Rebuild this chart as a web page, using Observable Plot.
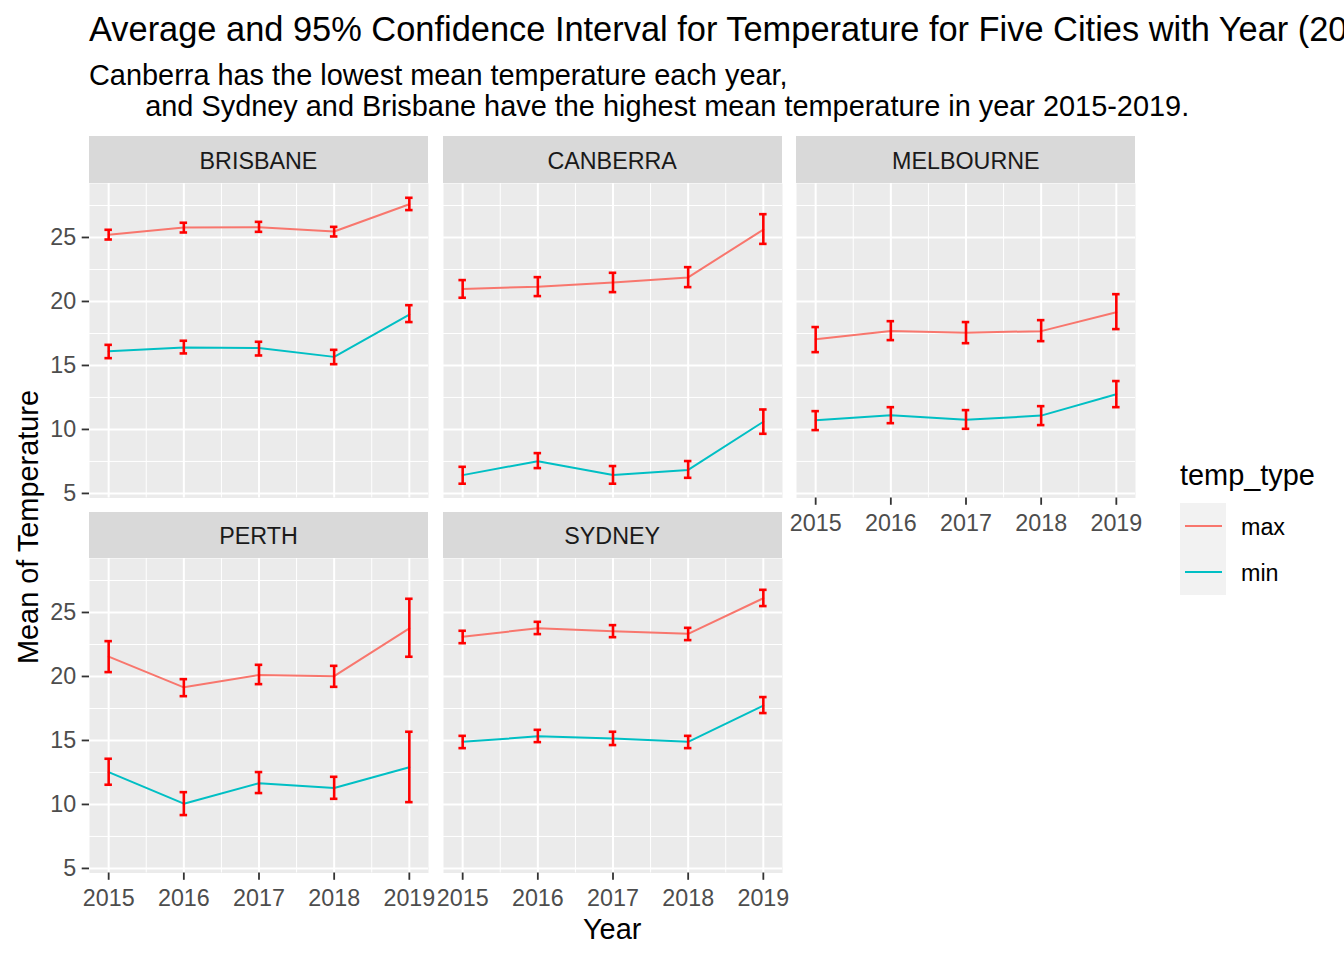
<!DOCTYPE html>
<html>
<head>
<meta charset="utf-8">
<script src="https://cdn.jsdelivr.net/npm/d3@7"></script>
<script src="https://cdn.jsdelivr.net/npm/@observablehq/plot@0.6"></script>
<style>
  html, body { margin: 0; padding: 0; background: #fff; overflow: hidden; }
  #root { position: relative; width: 1344px; height: 960px; overflow: hidden;
          font-family: Arial, "Liberation Sans", sans-serif; }
  .abs { position: absolute; white-space: pre; line-height: 1; }
  .strip { position: absolute; background: #D9D9D9; color: #1A1A1A; font-size: 23.3px;
           display: flex; align-items: center; justify-content: center;
           box-sizing: border-box; padding-top: 4px; }
  svg { position: absolute; }
</style>
</head>
<body>
<div id="root"></div>
<script>
// ---------------- data ----------------
const cities = ["BRISBANE", "CANBERRA", "MELBOURNE", "PERTH", "SYDNEY"];
const years = [2015, 2016, 2017, 2018, 2019];
const tempTypes = ["max", "min"];
const yTicks = [5, 10, 15, 20, 25];
const yMinorTicks = [7.5, 12.5, 17.5, 22.5, 27.5];
const xTicks = [2015, 2016, 2017, 2018, 2019];
const xMinorTicks = [2015.5, 2016.5, 2017.5, 2018.5];

// mean of daily max temperature, per city (rows) and year (columns)
const maxMean = [
  [25.22, 25.77, 25.80, 25.47, 27.60],
  [20.98, 21.15, 21.48, 21.88, 25.62],
  [17.04, 17.70, 17.56, 17.68, 19.15],
  [21.55, 19.15, 20.12, 20.02, 23.76],
  [23.10, 23.77, 23.54, 23.33, 26.11]
];
const maxLo = [
  [24.84, 25.39, 25.44, 25.08, 27.14],
  [20.29, 20.42, 20.73, 21.12, 24.50],
  [16.04, 16.98, 16.74, 16.90, 17.84],
  [20.34, 18.46, 19.40, 19.19, 21.54],
  [22.60, 23.31, 23.07, 22.84, 25.50]
];
const maxHi = [
  [25.60, 26.15, 26.22, 25.83, 28.10],
  [21.67, 21.90, 22.24, 22.68, 26.82],
  [18.00, 18.46, 18.39, 18.54, 20.57],
  [22.76, 19.79, 20.91, 20.83, 26.07],
  [23.57, 24.27, 24.01, 23.80, 26.77]
];
// mean of daily min temperature
const minMean = [
  [16.10, 16.40, 16.36, 15.67, 18.98],
  [6.43, 7.52, 6.44, 6.84, 10.60],
  [10.71, 11.10, 10.75, 11.08, 12.75],
  [12.52, 10.06, 11.66, 11.29, 12.90],
  [14.89, 15.32, 15.16, 14.89, 17.72]
];
const minLo = [
  [15.57, 15.94, 15.78, 15.10, 18.39],
  [5.76, 6.98, 5.76, 6.22, 9.66],
  [9.95, 10.49, 10.05, 10.34, 11.74],
  [11.54, 9.17, 10.89, 10.44, 10.18],
  [14.40, 14.87, 14.64, 14.40, 17.14]
];
const minHi = [
  [16.61, 16.93, 16.85, 16.22, 19.71],
  [7.08, 8.15, 7.14, 7.53, 11.56],
  [11.43, 11.74, 11.51, 11.82, 13.78],
  [13.57, 10.96, 12.53, 12.16, 15.68],
  [15.36, 15.83, 15.68, 15.36, 18.39]
];

// ---------------- table for Plot ----------------
const rows = [];
cities.forEach((city, i) => years.forEach((year, j) => {
  rows.push({city, year, type: "max", mean: maxMean[i][j], lo: maxLo[i][j], hi: maxHi[i][j]});
  rows.push({city, year, type: "min", mean: minMean[i][j], lo: minLo[i][j], hi: minHi[i][j]});
}));

// ---------------- layout ----------------
const capHalf = 0.05;
const yMin = d3.min(rows, d => d.lo), yMax = d3.max(rows, d => d.hi);
const yDomain = [yMin - 0.05 * (yMax - yMin), yMax + 0.05 * (yMax - yMin)];
const xa = years[0] - capHalf, xb = years[years.length - 1] + capHalf;
const xDomain = [xa - 0.05 * (xb - xa), xb + 0.05 * (xb - xa)];

const PW = 339, PH = 314.5, GAP = 14.67, STRIP = 46.5;
const LEFT0 = 89, TOP0 = 182.5;
const ML = 89, MR = 16, MT = 4, MB = 52;
const FONT = 'Arial, "Liberation Sans", sans-serif';
const root = document.getElementById("root");

function addDiv(text, css, cls = "abs") {
  const d = document.createElement("div");
  d.className = cls;
  d.textContent = text;
  Object.assign(d.style, css);
  root.appendChild(d);
  return d;
}

// title, subtitle
addDiv("Average and 95% Confidence Interval for Temperature for Five Cities with Year (2015-2019)",
  {left: "89px", top: "11.5px", fontSize: "34.4px", color: "#000"});
addDiv("Canberra has the lowest mean temperature each year,\n       and Sydney and Brisbane have the highest mean temperature in year 2015-2019.",
  {left: "89px", top: "60px", fontSize: "28.9px", color: "#000", lineHeight: "31px"});

cities.forEach((city, i) => {
  const col = i % 3, row = Math.floor(i / 3);
  const left = LEFT0 + col * (PW + GAP);
  const top = TOP0 + row * (PH + GAP + STRIP);
  const showY = col === 0;
  const showX = row === 1 || (i + 3 >= cities.length);
  const data = rows.filter(d => d.city === city);

  const axisStyle = {stroke: "#333333", strokeWidth: 1.8, fill: "#4D4D4D", fontSize: 23.3, label: null, tickSize: 7.3};

  const chart = Plot.plot({
    width: ML + PW + MR,
    height: MT + PH + MB,
    marginLeft: ML, marginRight: MR, marginTop: MT, marginBottom: MB,
    x: {domain: xDomain, axis: null},
    y: {domain: yDomain, axis: null},
    color: {domain: tempTypes, range: ["#F8766D", "#00BFC4"]},
    style: {background: "transparent", fontFamily: FONT, fontSize: "23.3px", overflow: "visible"},
    marks: [
      Plot.frame({fill: "#EBEBEB", stroke: "none"}),
      Plot.gridY(yMinorTicks, {stroke: "#FFFFFF", strokeOpacity: 1, strokeWidth: 1}),
      Plot.gridX(xMinorTicks, {stroke: "#FFFFFF", strokeOpacity: 1, strokeWidth: 1}),
      Plot.gridY(yTicks, {stroke: "#FFFFFF", strokeOpacity: 1, strokeWidth: 2}),
      Plot.gridX(xTicks, {stroke: "#FFFFFF", strokeOpacity: 1, strokeWidth: 2}),
      showY ? Plot.axisY(yTicks, {...axisStyle, tickPadding: 6, tickFormat: d => String(d)}) : null,
      showX ? Plot.axisX(xTicks, {...axisStyle, tickPadding: 9, tickFormat: d => String(d)}) : null,
      Plot.line(data, {x: "year", y: "mean", stroke: "type", strokeWidth: 2}),
      Plot.ruleX(data, {x: "year", y1: "lo", y2: "hi", stroke: "#FF0000", strokeWidth: 2.6}),
      Plot.ruleY(data, {y: "lo", x1: d => d.year - capHalf, x2: d => d.year + capHalf, stroke: "#FF0000", strokeWidth: 2.6}),
      Plot.ruleY(data, {y: "hi", x1: d => d.year - capHalf, x2: d => d.year + capHalf, stroke: "#FF0000", strokeWidth: 2.6})
    ]
  });
  chart.style.left = (left - ML) + "px";
  chart.style.top = (top - MT) + "px";
  root.appendChild(chart);

  addDiv(city, {left: left + "px", top: (top - STRIP) + "px", width: PW + "px", height: STRIP + "px"}, "strip");
});

// axis titles
addDiv("Year", {left: (LEFT0 + (3 * PW + 2 * GAP) / 2) + "px", top: "915px", fontSize: "28.9px",
  transform: "translateX(-50%)", color: "#000"});
addDiv("Mean of Temperature", {left: "28px", top: "527px", fontSize: "28.9px", color: "#000",
  transform: "translate(-50%, -50%) rotate(-90deg)"});

// legend
addDiv("temp_type", {left: "1180px", top: "461px", fontSize: "28.9px", color: "#000"});
addDiv("", {left: "1180px", top: "503px", width: "46px", height: "92px", background: "#F2F2F2"});
const legendColors = ["#F8766D", "#00BFC4"];
tempTypes.forEach((t, k) => {
  addDiv("", {left: "1185px", top: (525 + 46 * k) + "px", width: "37px", height: "2px", background: legendColors[k]});
  addDiv(t, {left: "1241px", top: (516 + 46 * k) + "px", fontSize: "23.3px", color: "#000"});
});
</script>
</body>
</html>
